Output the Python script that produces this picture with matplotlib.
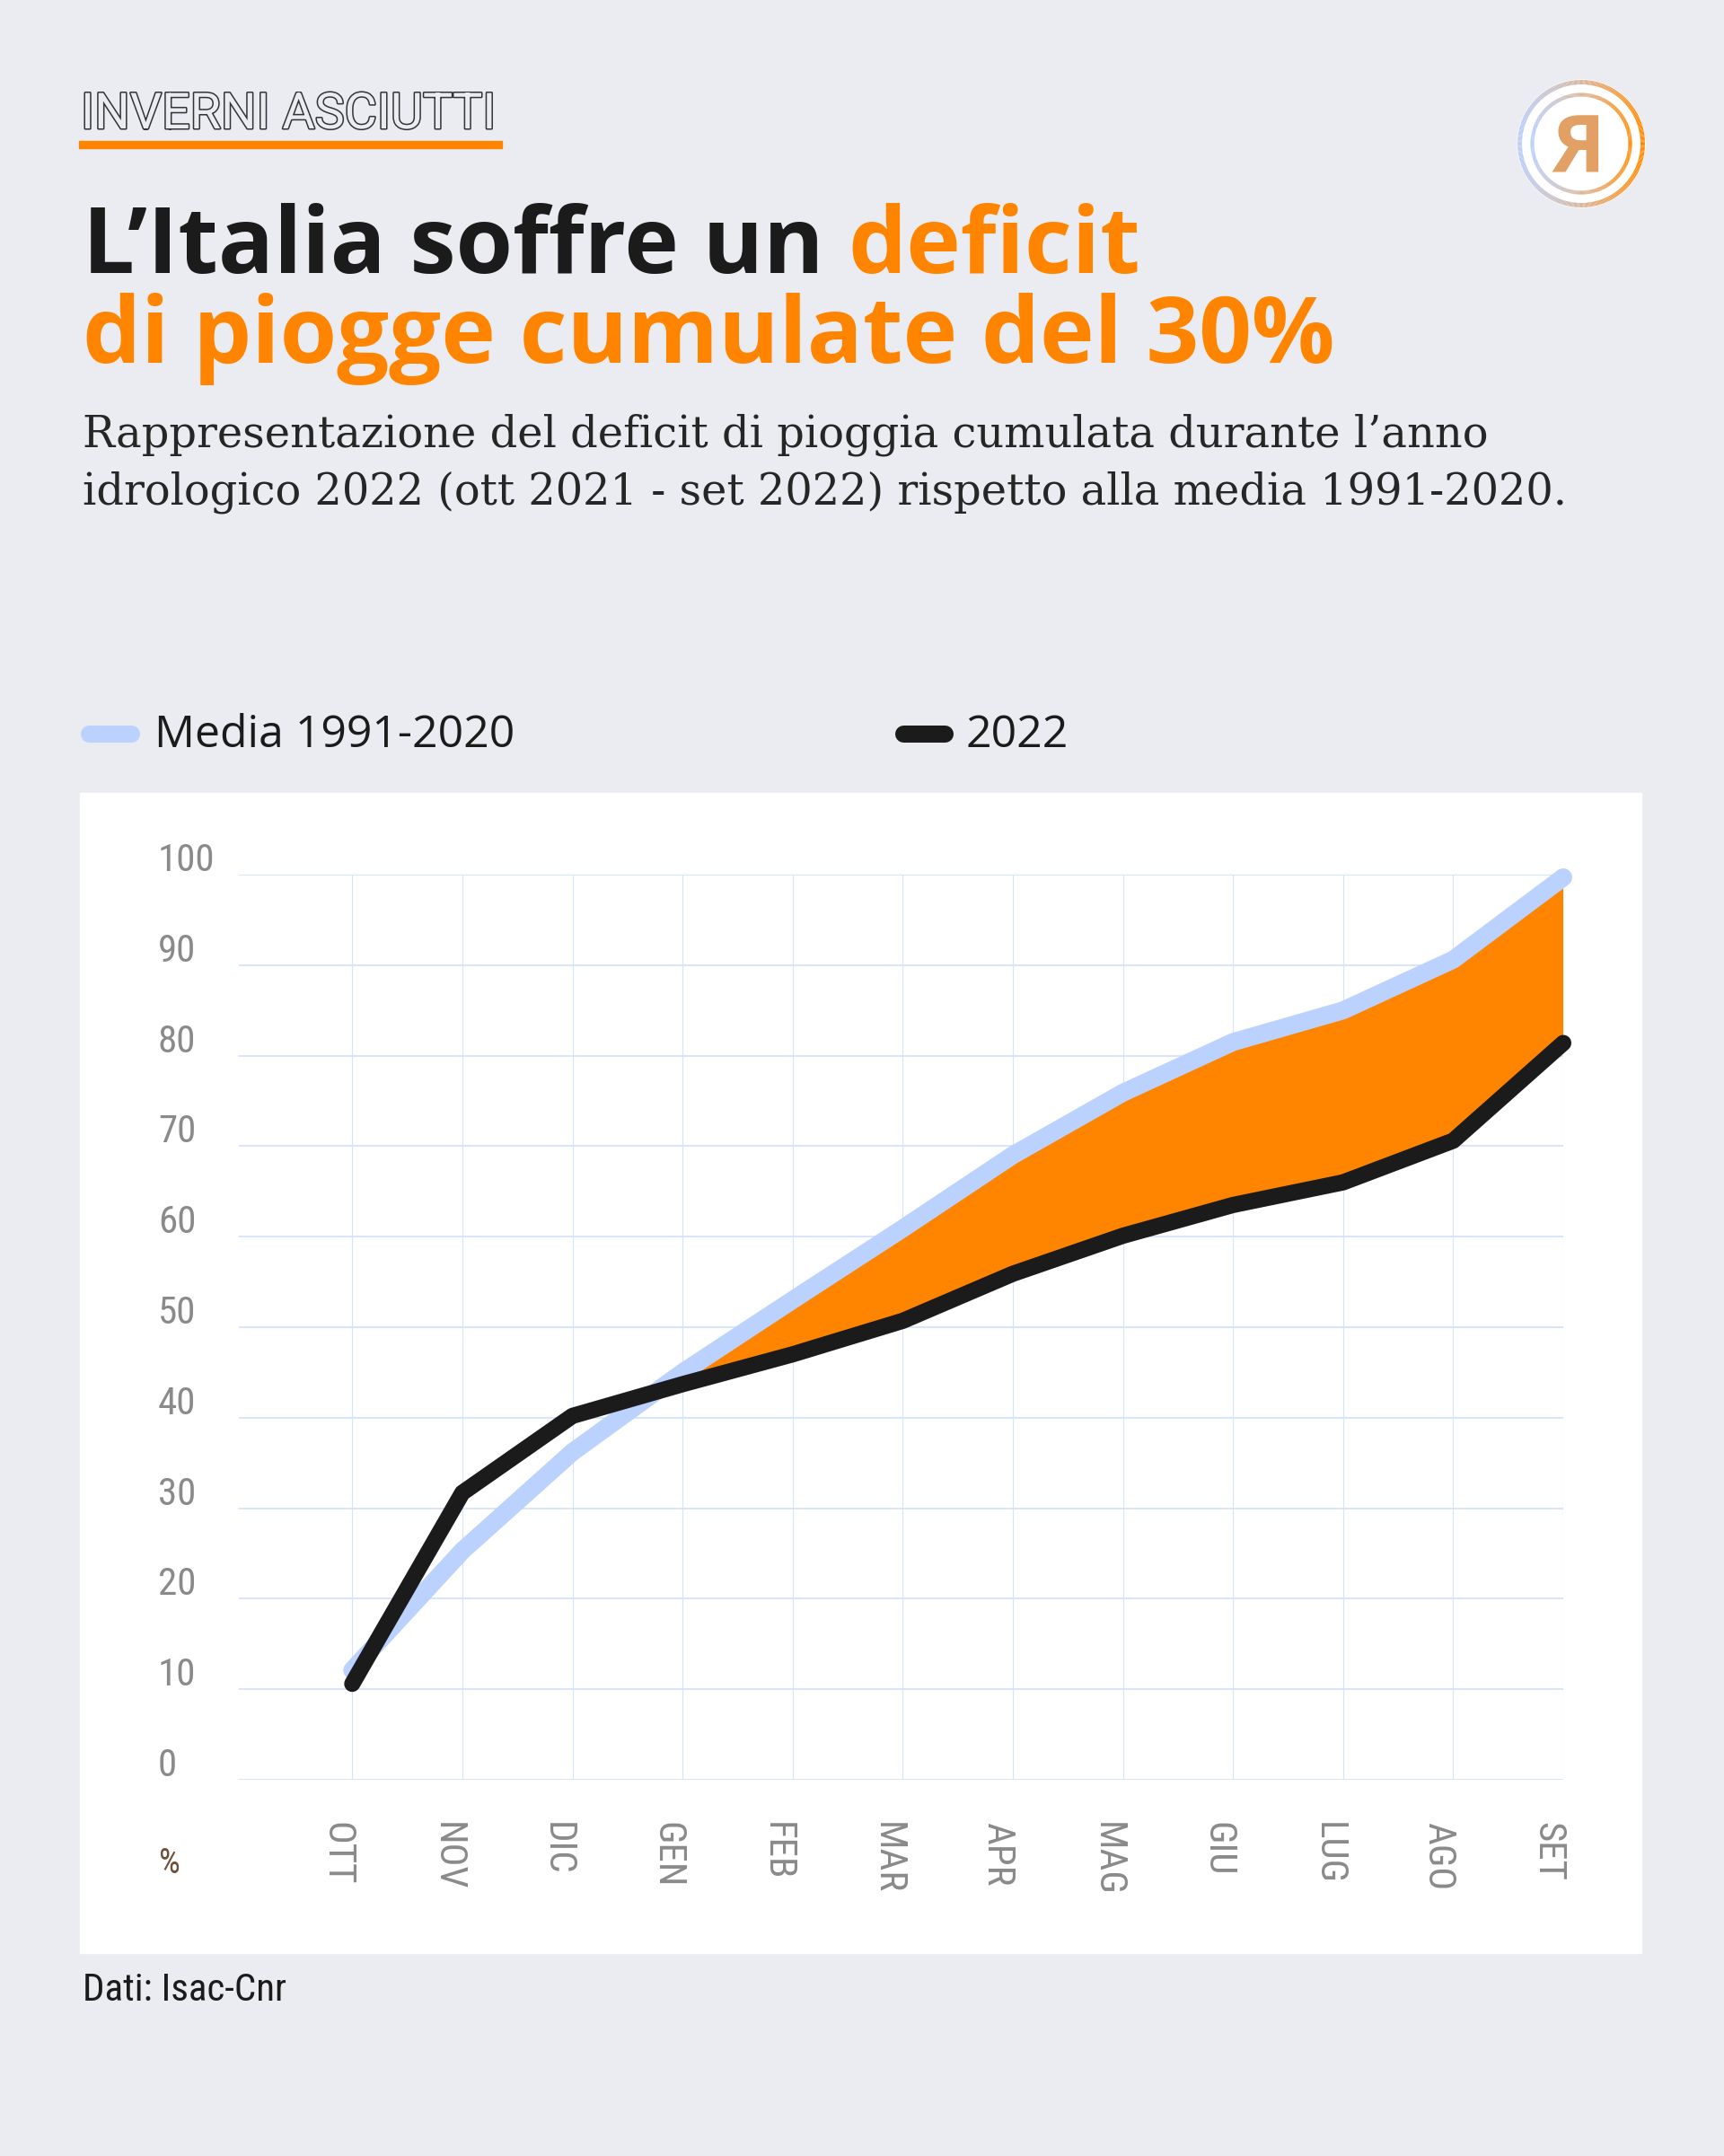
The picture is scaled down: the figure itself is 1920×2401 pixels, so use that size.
import matplotlib
matplotlib.use("Agg")
import matplotlib.pyplot as plt
import numpy as np
from matplotlib import font_manager, transforms
from matplotlib.patches import Rectangle, Circle
from matplotlib.collections import LineCollection
from matplotlib.colors import LinearSegmentedColormap
import matplotlib.patheffects as pe

W, H = 1920, 2401
BG = "#ebecf1"
ORANGE = "#ff8500"
BLUE = "#bad2fd"
BLACK = "#1b1b1b"
GRID = "#d6e3fb"
GREY = "#8a8a8a"

# data (cumulated rain, % of the yearly mean)
months = ["OTT", "NOV", "DIC", "GEN", "FEB", "MAR", "APR", "MAG", "GIU", "LUG", "AGO", "SET"]
media = [12.1, 25.3, 36.2, 45.0, 53.0, 60.9, 69.0, 75.9, 81.5, 85.0, 90.6, 99.7]
anno_2022 = [10.6, 31.7, 40.2, 43.7, 47.0, 50.7, 55.9, 60.1, 63.5, 66.0, 70.6, 81.4]
yticks = list(range(0, 101, 10))

installed = {f.name for f in font_manager.fontManager.ttflist}
COND = next((f for f in ["Roboto Condensed", "Liberation Sans Narrow"] if f in installed), "Roboto")
cs = 1.0 if COND != "Roboto" else 0.88


def fx(px):
    return px / W


def fy(py):
    return 1 - py / H


fig = plt.figure(figsize=(19.2, 24.01), dpi=100, facecolor=BG)
px = lambda dx, dy: transforms.ScaledTranslation(dx / 100, dy / 100, fig.dpi_scale_trans)

# white card behind the chart
fig.patches.append(Rectangle((fx(89), fy(2175)), fx(1828 - 89), (2175 - 883) / H,
                             transform=fig.transFigure, color="white", zorder=-5))

# ---- header ---------------------------------------------------------------
fig.text(fx(90), fy(143), "INVERNI ASCIUTTI", family="Roboto", fontsize=40, color=BG,
         va="baseline", path_effects=[pe.withStroke(linewidth=2.2, foreground="#333333")])
fig.patches.append(Rectangle((fx(88), fy(165)), fx(559 - 88), 8 / H,
                             transform=fig.transFigure, color=ORANGE))

tfont = dict(family="Open Sans", weight="bold", fontsize=74, va="baseline")
t1 = fig.text(fx(92), fy(304), "L’Italia soffre un", color=BLACK, **tfont)
fig.canvas.draw()
r = fig.canvas.get_renderer()
a = fig.text(0, 0, "x x", alpha=0, **tfont)
b = fig.text(0, 0, "xx", alpha=0, **tfont)
space = a.get_window_extent(r).width - b.get_window_extent(r).width
a.remove(); b.remove()
x1 = t1.get_window_extent(r).x1 + space
fig.text(x1 / W, fy(304), "deficit", color=ORANGE, **tfont)
fig.text(fx(92), fy(404), "di piogge cumulate del 30%", color=ORANGE, **tfont)

sfont = dict(family="DejaVu Serif", fontsize=34.5, color="#262626", va="baseline")
fig.text(fx(92), fy(498), "Rappresentazione del deficit di pioggia cumulata durante l’anno", **sfont)
fig.text(fx(92), fy(562), "idrologico 2022 (ott 2021 - set 2022) rispetto alla media 1991-2020.", **sfont)

# ---- logo -----------------------------------------------------------------
lax = fig.add_axes([fx(1761 - 85), fy(160 + 85), fx(170), 170 / H])
lax.set_xlim(-85, 85); lax.set_ylim(-85, 85); lax.axis("off")
lax.add_patch(Circle((0, 0), 71, color="white"))
cmap = LinearSegmentedColormap.from_list("logo", ["#b8cdf8", "#d9b49c", "#ff8a00"])
for rad, lw in [(68.5, 3.6), (54.5, 3.0)]:
    th = np.linspace(0, 2 * np.pi, 361)
    pts = np.c_[rad * np.cos(th), rad * np.sin(th)]
    segs = np.stack([pts[:-1], pts[1:]], axis=1)
    mid = (th[:-1] + th[1:]) / 2
    lax.add_collection(LineCollection(segs, colors=cmap((np.cos(mid) + 1) / 2), linewidths=lw))
lax.text(-3, -32, "Я", family="Open Sans", weight="bold", fontsize=64, color="#e2a064",
         ha="center", va="baseline")

# ---- legend ---------------------------------------------------------------
for x0, x1_, col, lab, tx in [(99, 146, BLUE, "Media 1991-2020", 172), (1006, 1052, BLACK, "2022", 1076)]:
    fig.add_artist(plt.Line2D([fx(x0), fx(x1_)], [fy(817), fy(817)], transform=fig.transFigure,
                              color=col, lw=13.7, solid_capstyle="round"))
    fig.text(fx(tx), fy(832), lab, family="Open Sans", weight=500, fontsize=36, color=BLACK,
             va="baseline")

# ---- chart ----------------------------------------------------------------
ax = fig.add_axes([fx(266), fy(1982), fx(1741 - 266), 1008 / H])
ax.set_facecolor("none")
x = np.arange(len(months))
m = np.array(media); k = np.array(anno_2022)
ax.set_xlim(-1.03, len(months) - 1)
ax.set_ylim(0, 100)
for v in yticks:
    ax.axhline(v, color=GRID, lw=1.3, zorder=1)
for i in x:
    ax.axvline(i, color=GRID, lw=0.8, zorder=1)
for s in ax.spines.values():
    s.set_visible(False)
ax.set_xticks([]); ax.set_yticks([])

ax.fill_between(x, m, k, where=m >= k, interpolate=True, color=ORANGE, lw=0, zorder=2)
ax.plot(x, m, color=BLUE, lw=14.4, solid_capstyle="round", zorder=3, clip_on=False)
ax.plot(x, k, color=BLACK, lw=13, solid_capstyle="round", zorder=4, clip_on=False)

ytr = transforms.blended_transform_factory(fig.transFigure, ax.transData) + px(0, 4)
for v in yticks:
    ax.text(fx(176), v, str(v), transform=ytr, family=COND, fontsize=31 * cs, color=GREY,
            ha="left", va="baseline")

xtr = transforms.blended_transform_factory(ax.transData, fig.transFigure) + px(-17, 0)
for i, lab in zip(x, months):
    ax.text(i, fy(2029), lab, transform=xtr, family=COND, fontsize=31 * cs, color=GREY,
            rotation=270, ha="center", va="top")

fig.text(fx(189), fy(2075), "%", family=COND, fontsize=27 * cs, color="#6e5038",
         ha="center", va="center")
fig.text(fx(92), fy(2228), "Dati: Isac-Cnr", family=COND, fontsize=31 * cs, color=BLACK,
         va="baseline")

fig.savefig("out.png", dpi=100, facecolor=BG)
